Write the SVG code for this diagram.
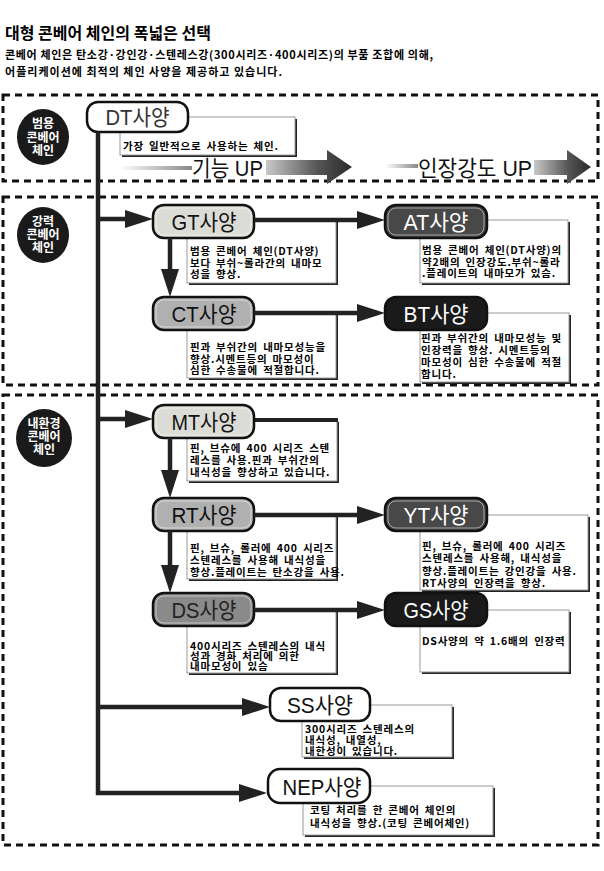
<svg xmlns="http://www.w3.org/2000/svg" width="604" height="871" viewBox="0 0 604 871">
<style>
.kr{font-family:"Noto Sans CJK KR","Noto Sans CJK SC",sans-serif}
.title{font-size:16px;font-weight:bold;fill:#000}
.sub{font-size:11px;font-weight:bold;fill:#000}
.zone{fill:none;stroke:#111;stroke-width:3;stroke-dasharray:7 5}
.oval{fill:#1a1a1a}
.ovt{font-size:12px;font-weight:bold;fill:#fff;text-anchor:middle}
.node{stroke:#111;stroke-width:2.5}
.inner{fill:none;stroke:#fff;stroke-opacity:0.5;stroke-width:1}
.lbl{font-family:"Liberation Sans","Noto Sans CJK KR",sans-serif;font-size:22px;text-anchor:middle}
.dk{fill:#111}
.wt{fill:#fff}
.box{fill:#fff;stroke:#999;stroke-width:1}
.shadow{fill:#222}
.dt{font-size:10.5px;font-weight:bold;fill:#000;letter-spacing:0.8px;word-spacing:2px}
.conn{fill:none;stroke:#222;stroke-width:4.5}
.up{font-family:"Liberation Sans","Noto Sans CJK KR",sans-serif;font-size:22px;fill:#111}
</style>
<defs>
<marker id="ah" markerUnits="userSpaceOnUse" markerWidth="30" markerHeight="20" refX="8" refY="9" orient="auto">
<path d="M0,0 L28,9 L0,18 z" fill="#222"/>
</marker>
<linearGradient id="fade" x1="0" x2="1" y1="0" y2="0">
<stop offset="0" stop-color="#fff"/><stop offset="1" stop-color="#888"/>
</linearGradient>
<linearGradient id="bigArrow" x1="0" x2="1" y1="0" y2="0">
<stop offset="0" stop-color="#c8c8c8"/><stop offset="0.6" stop-color="#555"/><stop offset="1" stop-color="#2a2a2a"/>
</linearGradient>
</defs>

<text x="5" y="39" class="kr title">대형 콘베어 체인의 폭넓은 선택</text>
<text x="5" y="59" class="kr sub" textLength="428" lengthAdjust="spacing">콘베어 체인은 탄소강·강인강·스텐레스강(300시리즈·400시리즈)의 부품 조합에 의해,</text>
<text x="5" y="76" class="kr sub" textLength="277" lengthAdjust="spacing">어플리케이션에 최적의 체인 사양을 제공하고 있습니다.</text>

<rect class="zone" x="3" y="95" width="595" height="86"/>
<rect class="zone" x="3" y="197" width="595" height="188"/>
<rect class="zone" x="3" y="395" width="595" height="450"/>

<g id="cat-general">
<ellipse class="oval" cx="43" cy="137" rx="26" ry="28"/>
<text class="kr ovt" x="43" y="128">범용</text>
<text class="kr ovt" x="43" y="142">콘베어</text>
<text class="kr ovt" x="43" y="155">체인</text>
</g>
<g id="cat-strong">
<ellipse class="oval" cx="43" cy="235" rx="26" ry="28"/>
<text class="kr ovt" x="43" y="226">강력</text>
<text class="kr ovt" x="43" y="239">콘베어</text>
<text class="kr ovt" x="43" y="252">체인</text>
</g>
<g id="cat-env">
<ellipse class="oval" cx="44" cy="438" rx="28" ry="29"/>
<text class="kr ovt" x="44" y="428">내환경</text>
<text class="kr ovt" x="44" y="441">콘베어</text>
<text class="kr ovt" x="44" y="454">체인</text>
</g>

<g id="up-arrows">
<rect x="120" y="166" width="72" height="4" fill="url(#fade)"/>
<text class="up" x="192" y="176" textLength="71" lengthAdjust="spacingAndGlyphs">기능 UP</text>
<path d="M266,160 H327 V150 L352,167 L327,184 V175 H266 z" fill="url(#bigArrow)"/>
<rect x="385" y="164" width="33" height="4" fill="url(#fade)"/>
<text class="up" x="418" y="176" textLength="114" lengthAdjust="spacingAndGlyphs">인장강도 UP</text>
<path d="M534,160 H567 V150 L591,167 L567,184 V175 H534 z" fill="url(#bigArrow)"/>
</g>

<g id="DT">
<rect class="shadow" x="122" y="119" width="175" height="38"/>
<rect class="box" x="120" y="117" width="175" height="38"/>
<rect class="node" x="87" y="102" width="101" height="30" rx="11" fill="#fff"/>
<text class="lbl" x="137.5" y="125" fill="#333" textLength="64" lengthAdjust="spacingAndGlyphs">DT사양</text>
<text class="kr dt" x="123" y="150">가장 일반적으로 사용하는 체인.</text>
</g>

<g id="GT">
<rect class="shadow" x="189" y="222" width="149" height="63"/>
<rect class="box" x="187" y="220" width="149" height="63"/>
<rect class="node" x="153" y="205" width="101" height="33" rx="11" fill="#dcdcd6"/>
<rect class="inner" x="156" y="208" width="95" height="27" rx="8"/>
<text class="lbl dk" x="204" y="230" textLength="65" lengthAdjust="spacingAndGlyphs">GT사양</text>
<text class="kr dt" x="190" y="255">범용 콘베어 체인(DT사양)</text>
<text class="kr dt" x="190" y="267">보다 부쉬~롤라간의 내마모</text>
<text class="kr dt" x="190" y="278">성을 향상.</text>
</g>

<g id="AT">
<rect class="shadow" x="422" y="222" width="148" height="63"/>
<rect class="box" x="420" y="220" width="148" height="63"/>
<rect class="node" x="385" y="205" width="102" height="33" rx="11" fill="#484848"/>
<rect class="inner" x="388" y="208" width="96" height="27" rx="8"/>
<text class="lbl wt" x="436" y="230" textLength="65" lengthAdjust="spacingAndGlyphs">AT사양</text>
<text class="kr dt" x="422" y="254">범용 콘베어 체인(DT사양)의</text>
<text class="kr dt" x="422" y="266">약2배의 인장강도.부쉬~롤라</text>
<text class="kr dt" x="422" y="277">.플레이트의 내마모가 있슴.</text>
</g>

<g id="CT">
<rect class="shadow" x="189" y="315" width="149" height="65"/>
<rect class="box" x="187" y="313" width="149" height="65"/>
<rect class="node" x="153" y="297" width="101" height="33" rx="11" fill="#b0b0b0"/>
<rect class="inner" x="156" y="300" width="95" height="27" rx="8"/>
<text class="lbl dk" x="204" y="322" textLength="65" lengthAdjust="spacingAndGlyphs">CT사양</text>
<text class="kr dt" x="190" y="351">핀과 부쉬간의 내마모성능을</text>
<text class="kr dt" x="190" y="363">향상.시멘트등의 마모성이</text>
<text class="kr dt" x="190" y="374">심한 수송물에 적절합니다.</text>
</g>

<g id="BT">
<rect class="shadow" x="422" y="315" width="149" height="69"/>
<rect class="box" x="420" y="313" width="149" height="69"/>
<rect class="node" x="385" y="297" width="102" height="33" rx="11" fill="#1a1a1a"/>
<text class="lbl wt" x="436" y="322" textLength="65" lengthAdjust="spacingAndGlyphs">BT사양</text>
<text class="kr dt" x="421" y="342">핀과 부쉬간의 내마모성능 및</text>
<text class="kr dt" x="421" y="354">인장력을 향상. 시멘트등의</text>
<text class="kr dt" x="421" y="366">마모성이 심한 수송물에 적절</text>
<text class="kr dt" x="421" y="378">합니다.</text>
</g>

<g id="MT">
<rect class="shadow" x="189" y="422" width="150" height="61"/>
<rect class="box" x="187" y="420" width="150" height="61"/>
<line x1="254" y1="420" x2="338" y2="420" stroke="#222" stroke-width="4"/>
<rect class="node" x="153" y="405" width="101" height="33" rx="11" fill="#dcdcd6"/>
<rect class="inner" x="156" y="408" width="95" height="27" rx="8"/>
<text class="lbl dk" x="204" y="430" textLength="65" lengthAdjust="spacingAndGlyphs">MT사양</text>
<text class="kr dt" x="190" y="452">핀, 브슈에 400 시리즈 스텐</text>
<text class="kr dt" x="190" y="464">레스를 사용.핀과 부쉬간의</text>
<text class="kr dt" x="190" y="476">내식성을 향상하고 있습니다.</text>
</g>

<g id="RT">
<rect class="shadow" x="189" y="517" width="149" height="64"/>
<rect class="box" x="187" y="515" width="149" height="64"/>
<rect class="node" x="153" y="498" width="101" height="33" rx="11" fill="#b0b0b0"/>
<rect class="inner" x="156" y="501" width="95" height="27" rx="8"/>
<text class="lbl dk" x="204" y="523" textLength="65" lengthAdjust="spacingAndGlyphs">RT사양</text>
<text class="kr dt" x="190" y="552">핀, 브슈, 롤러에 400 시리즈</text>
<text class="kr dt" x="190" y="564">스텐레스를 사용해 내식성을</text>
<text class="kr dt" x="190" y="576">향상.플레이트는 탄소강을 사용.</text>
</g>

<g id="YT">
<rect class="shadow" x="422" y="517" width="168" height="75"/>
<rect class="box" x="420" y="515" width="168" height="75"/>
<rect class="node" x="385" y="498" width="102" height="33" rx="11" fill="#484848"/>
<rect class="inner" x="388" y="501" width="96" height="27" rx="8"/>
<text class="lbl wt" x="436" y="523" textLength="65" lengthAdjust="spacingAndGlyphs">YT사양</text>
<text class="kr dt" x="422" y="550">핀, 브슈, 롤러에 400 시리즈</text>
<text class="kr dt" x="422" y="562">스텐레스를 사용해, 내식성을</text>
<text class="kr dt" x="422" y="575">향상.플레이트는 강인강을 사용.</text>
<text class="kr dt" x="422" y="587">RT사양의 인장력을 향상.</text>
</g>

<g id="DS">
<rect class="shadow" x="189" y="612" width="149" height="63"/>
<rect class="box" x="187" y="610" width="149" height="63"/>
<rect class="node" x="153" y="593" width="101" height="33" rx="11" fill="#8a8a8a"/>
<rect class="inner" x="156" y="596" width="95" height="27" rx="8"/>
<text class="lbl" x="204" y="618" fill="#222" textLength="65" lengthAdjust="spacingAndGlyphs">DS사양</text>
<text class="kr dt" x="190" y="650">400시리즈 스텐레스의 내식</text>
<text class="kr dt" x="190" y="660">성과 경화 처리에 의한</text>
<text class="kr dt" x="190" y="670">내마모성이 있슴</text>
</g>

<g id="GS">
<rect class="shadow" x="422" y="612" width="149" height="62"/>
<rect class="box" x="420" y="610" width="149" height="62"/>
<rect class="node" x="385" y="593" width="102" height="33" rx="11" fill="#1a1a1a"/>
<text class="lbl wt" x="436" y="618" textLength="65" lengthAdjust="spacingAndGlyphs">GS사양</text>
<text class="kr dt" x="422" y="645">DS사양의 약 1.6배의 인장력</text>
</g>

<g id="SS">
<rect class="shadow" x="304" y="707" width="150" height="52"/>
<rect class="box" x="302" y="705" width="150" height="52"/>
<rect class="node" x="270" y="688" width="100" height="33" rx="11" fill="#fff"/>
<text class="lbl dk" x="320" y="713" textLength="66" lengthAdjust="spacingAndGlyphs">SS사양</text>
<text class="kr dt" x="305" y="733">300시리즈 스텐레스의</text>
<text class="kr dt" x="305" y="744">내식성, 내열성,</text>
<text class="kr dt" x="305" y="755">내한성이 있습니다.</text>
</g>

<g id="NEP">
<rect class="shadow" x="305" y="788" width="190" height="49"/>
<rect class="box" x="303" y="786" width="190" height="49"/>
<rect class="node" x="268" y="769" width="102" height="34" rx="12" fill="#fff"/>
<text class="lbl dk" x="322" y="795" textLength="79" lengthAdjust="spacingAndGlyphs">NEP사양</text>
<text class="kr dt" x="310" y="814">코팅 처리를 한 콘베어 체인의</text>
<text class="kr dt" x="310" y="827">내식성을 향상.(코팅 콘베어체인)</text>
</g>

<g id="connectors">
<path class="conn" d="M98,132 V793 H247" marker-end="url(#ah)"/>
<path class="conn" d="M98,219 H133" marker-end="url(#ah)"/>
<path class="conn" d="M98,419 H133" marker-end="url(#ah)"/>
<path class="conn" d="M98,707 H250" marker-end="url(#ah)"/>
<path class="conn" d="M254,220 H365" marker-end="url(#ah)"/>
<path class="conn" d="M254,313 H365" marker-end="url(#ah)"/>
<path class="conn" d="M254,515 H365" marker-end="url(#ah)"/>
<path class="conn" d="M254,610 H365" marker-end="url(#ah)"/>
<path class="conn" d="M170,238 V277" marker-end="url(#ah)"/>
<path class="conn" d="M170,438 V478" marker-end="url(#ah)"/>
<path class="conn" d="M170,531 V573" marker-end="url(#ah)"/>
</g>
</svg>
